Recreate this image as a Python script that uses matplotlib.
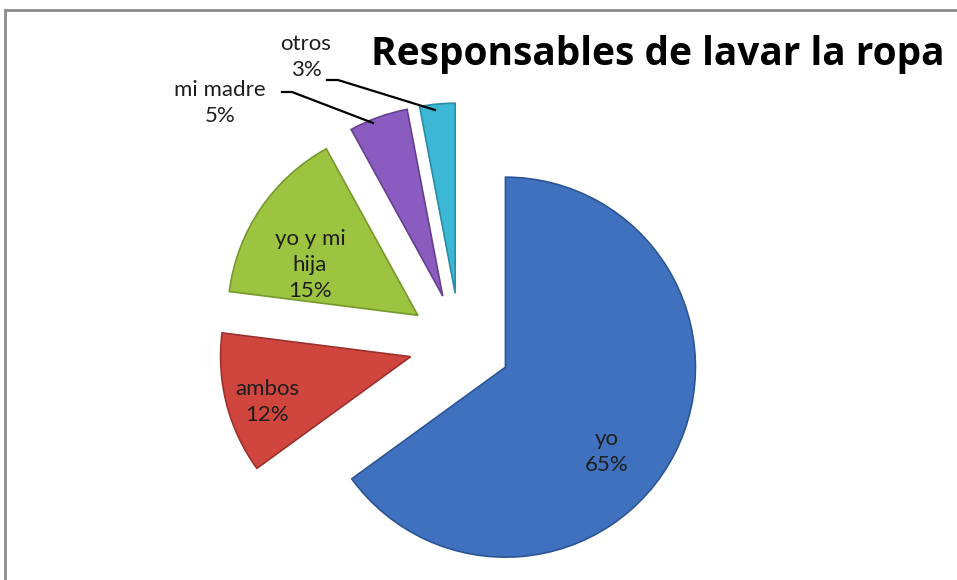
import matplotlib.pyplot as plt
from matplotlib.patches import Rectangle

# data
labels = ['yo', 'ambos', 'yo y mi\nhija', 'mi madre', 'otros']
shares = [65, 12, 15, 5, 3]
colors = ['#3f71bf', '#d0463f', '#9cc441', '#8a5cbf', '#3db8d4']
edges = ['#2c5594', '#9c302c', '#76992c', '#65408f', '#2a8ca6']

plt.rcParams['font.family'] = ['Lato', 'DejaVu Sans']

W, H = 957, 580
fig = plt.figure(figsize=(W / 100, H / 100), dpi=100)
ax = fig.add_axes([0, 0, 1, 1])

# pie in pixel-like data coords (y up)
cx, cy, r = 460, 236, 190
wedges, _ = ax.pie(shares, colors=colors, startangle=90, counterclock=False,
                   center=(cx, cy), radius=r, explode=[51] * len(shares),
                   wedgeprops=dict(linewidth=1.2))
for w, ec in zip(wedges, edges):
    w.set_edgecolor(ec)

ax.set_xlim(0, W)
ax.set_ylim(0, H)
ax.set_aspect('equal')
ax.axis('off')

# chart border (cut off on right and bottom)
ax.add_patch(Rectangle((5, -20), W, H - 10 + 20, fill=False,
                       edgecolor='#8c8c8c', linewidth=2, clip_on=False))

txt = dict(ha='center', va='center', fontsize=16, color='#1e1e1e', linespacing=1.4)

# in-slice labels
ax.text(607, H - 452, f'{labels[0]}\n{shares[0]}%', **txt)
ax.text(267, H - 402, f'{labels[1]}\n{shares[1]}%', **txt)
ax.text(310, H - 265, f'{labels[2]}\n{shares[2]}%', **txt)

# outside labels with leader lines
ax.text(220, H - 103, f'{labels[3]}\n{shares[3]}%', **txt)
ax.plot([282, 292, 373], [H - 92, H - 92, H - 123], color='black', lw=1.6)
ax.text(306, H - 57, f'{labels[4]}\n{shares[4]}%', **txt)
ax.plot([327, 338, 435], [H - 80, H - 80, H - 110], color='black', lw=1.6)

ax.text(658, H - 55, 'Responsables de lavar la ropa', ha='center', va='center',
        fontsize=28, fontweight='bold', color='black', family='Open Sans')

fig.savefig('out.png', dpi=100)
